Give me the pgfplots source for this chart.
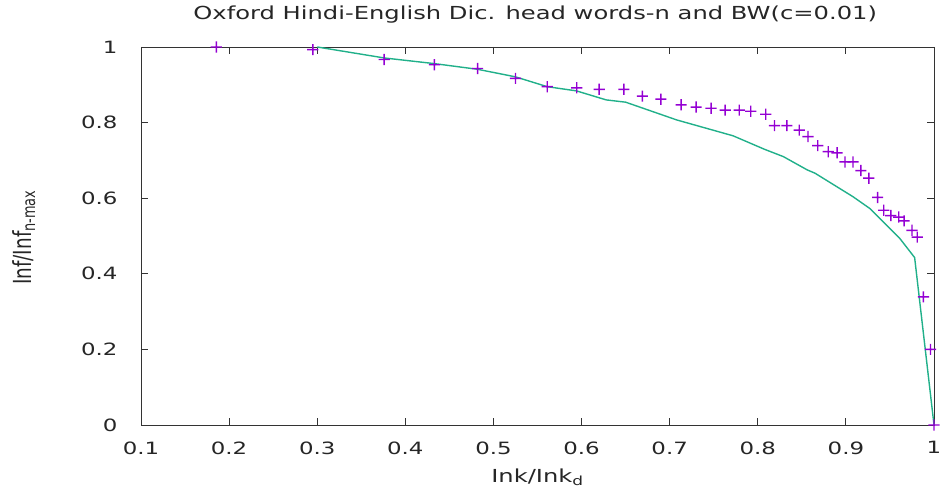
\documentclass[border=0pt]{standalone}
\usepackage{fontspec}
\setmainfont{DejaVu Sans}[FakeStretch=1.35]
\usepackage{pgfplots}
\pgfplotsset{compat=1.18}

\definecolor{gpviolet}{RGB}{148,0,211}
\definecolor{gpgreen}{RGB}{33,176,138}

% filled plus sign, drawn as two bars
\pgfdeclareplotmark{fplus}{%
  \pgfpathrectangle{\pgfpoint{-\pgfplotmarksize}{-0.7bp}}{\pgfpoint{2\pgfplotmarksize}{1.4bp}}%
  \pgfpathrectangle{\pgfpoint{-0.7bp}{-\pgfplotmarksize}}{\pgfpoint{1.4bp}{2\pgfplotmarksize}}%
  \pgfusepathqfill}

\begin{document}
\begin{tikzpicture}[x=1bp,y=1bp]
\useasboundingbox (0,0) rectangle (943,493);
\begin{axis}[
    at={(141bp,68bp)}, anchor=south west,
    scale only axis,
    width=793bp, height=378bp,
    xmin=0.1, xmax=1, ymin=0, ymax=1,
    xtick={0.1,0.2,0.3,0.4,0.5,0.6,0.7,0.8,0.9,1},
    ytick={0,0.2,0.4,0.6,0.8,1},
    tick align=inside,
    major tick length=7bp,
    tick style={black!80, line width=0.9bp},
    axis line style={black!80, line width=0.9bp},
    /pgf/number format/assume math mode=true,
    ticklabel style={font=\fontsize{17}{20}\selectfont, black!85},
    yticklabel style={xshift=-20bp},
    xticklabel style={yshift=-13bp},
    title={Oxford Hindi-English Dic. head words-n and BW(c=0.01)},
    title style={at={(0.497,1.070)}, anchor=center, yshift=0pt, font=\fontsize{18}{21}\selectfont, black!85},
    xlabel={Ink/Ink\textsubscript{d}},
    xlabel style={at={(0.5,-0.138)}, anchor=center, font=\fontsize{18}{21}\selectfont, black!85},
    ylabel={\setmainfont{DejaVu Sans}[FakeStretch=1]\fontsize{18.5}{21}\selectfont\scalebox{1}[1.35]{Inf/Inf\textsubscript{n-max}}},
    ylabel style={at={(-0.1475,0.496)}, anchor=center, black!85},
    clip=false,
]
\addplot[gpgreen, line width=1.4bp] coordinates {
    (0.300,1.000) (0.376,0.971) (0.433,0.956) (0.482,0.941) (0.525,0.921)
    (0.561,0.895) (0.594,0.884) (0.628,0.860) (0.650,0.854) (0.708,0.807)
    (0.772,0.765) (0.808,0.729) (0.829,0.710) (0.856,0.675) (0.865,0.666)
    (0.908,0.604) (0.927,0.573) (0.961,0.494) (0.978,0.443) (1.000,0.000)
};
\addplot[only marks, mark=fplus, mark size=5.6bp, gpviolet,
    mark options={fill=gpviolet, draw=none}] coordinates {
    (0.1855,1.000) (0.295,0.993) (0.376,0.967) (0.433,0.953) (0.482,0.943)
    (0.525,0.917) (0.561,0.895) (0.5945,0.892) (0.620,0.888) (0.648,0.888)
    (0.669,0.870) (0.690,0.862) (0.713,0.847) (0.730,0.841) (0.747,0.838)
    (0.763,0.833) (0.779,0.833) (0.792,0.830) (0.809,0.822) (0.819,0.792)
    (0.833,0.792) (0.847,0.780) (0.857,0.763) (0.868,0.739) (0.880,0.723)
    (0.890,0.720) (0.899,0.696) (0.908,0.696) (0.917,0.673) (0.926,0.653)
    (0.936,0.602) (0.943,0.568) (0.951,0.554) (0.960,0.550) (0.966,0.540)
    (0.975,0.515) (0.981,0.497) (0.988,0.339) (0.996,0.200) (1.000,0.000)
};
\end{axis}
\end{tikzpicture}
\end{document}
